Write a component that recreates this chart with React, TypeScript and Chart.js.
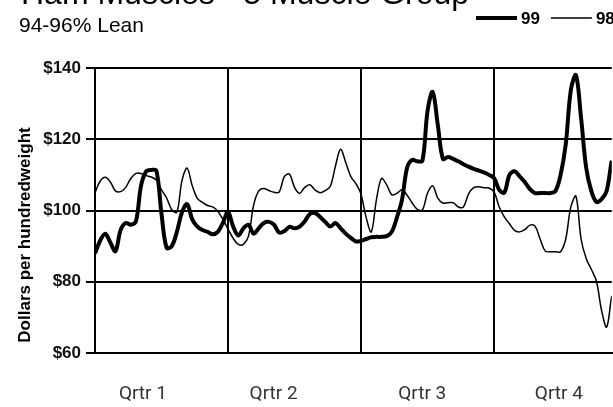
import React, { useEffect, useRef } from "react";
import { Chart, registerables } from "chart.js";

Chart.register(...registerables);

const titleText = "Ham Muscles - 5 Muscle Group";
const subtitleText = "94-96% Lean";
const yAxisTitle = "Dollars per hundredweight";

// half-week periods across the year (0 = start of Qrtr 1)
const periods = [
  0, 1, 2, 3, 4, 5, 6, 7, 8, 9, 10, 11, 12, 13, 14, 15, 16, 17, 18, 19,
  20, 21, 22, 23, 24, 25, 26, 27, 28, 29, 30, 31, 32, 33, 34, 35, 36, 37, 38, 39,
  40, 41, 42, 43, 44, 45, 46, 47, 48, 49, 50, 51, 52, 53, 54, 55, 56, 57, 58, 59,
  60, 61, 62, 63, 64, 65, 66, 67, 68, 69, 70, 71, 72, 73, 74, 75, 76, 77, 78, 79,
  80, 81, 82, 83, 84, 85, 86, 87, 88, 89, 90, 91, 92, 93, 94, 95, 96, 97, 98, 99,
  100, 101, 102, 103,
];

const quarterBounds = [0, 26, 52, 78, 104];
const quarterLabels = ["Qrtr 1", "Qrtr 2", "Qrtr 3", "Qrtr 4"];
const quarterLabelPos = [9.36, 34.9, 63.96, 90.66];
const yTicks = [60, 80, 100, 120, 140];

const series99Name = "99";
const prices99 = [
  88, 91.5, 93.5, 91, 88.6, 94.5, 96.5, 96, 97, 107,
  111, 111.4, 111.2, 99, 89.5, 90, 94, 99.5, 101.8, 97.5,
  95.5, 94.5, 94, 93.3, 94, 96.5, 99.6, 95.5, 93, 95,
  96, 93.5, 95, 96.5, 96.8, 96, 93.8, 94.2, 95.4, 95,
  95.5, 97, 99, 99.3, 98.2, 96.8, 95.5, 96.5, 95, 93.5,
  92.3, 91.3, 91.5, 92, 92.5, 92.6, 92.6, 92.8, 94, 98,
  103, 112, 114.2, 113.8, 114, 128, 133.3, 124, 114.5, 115,
  114.5, 113.8, 113, 112.3, 111.7, 111.2, 110.7, 110, 109.1, 105.8,
  105, 110, 111, 109.6, 108, 106, 104.9, 104.9, 104.9, 104.9,
  105.5, 110, 118.5, 133.8, 138, 126, 112, 105.5, 102.4, 103.2,
  105.5, 114, 120, 121,
];

const series98Name = "98";
const prices98 = [
  105, 108.2, 109.3, 108, 105.5, 105.3, 106.5, 109, 110.4, 110.4,
  109.8, 109.4, 108.5, 105.8, 103.5, 100.2, 99.5, 108.4, 111.9, 107,
  103.4, 102.3, 101.4, 101, 99.8, 97.5, 94.8, 92.2, 90.5, 90.5,
  92.8, 101.5, 105.5, 106.2, 105.6, 105.1, 105.2, 109.5, 110.2, 106.5,
  104.8, 106.5, 107.2, 105.8, 105, 105.6, 106.8, 112.5, 117.2, 113.5,
  109.5, 107.5, 104.5, 98, 94, 103, 109, 107.2, 104.4, 104.8,
  105.8, 104.3, 102.1, 100.3, 100.2, 104.9, 106.9, 103.5, 102.1, 102.2,
  102.2, 101, 101, 104.6, 106.4, 106.7, 106.4, 106.3, 105.2, 101,
  98.2, 96.3, 94.4, 94, 94.6, 95.9, 95.6, 92, 88.6, 88.4,
  88.4, 88.4, 92, 101, 104, 92, 86.5, 83.5, 80.2, 72,
  67.3, 76, 82, 84,
];

const textPlugin = {
  id: "customTexts",
  afterDraw(chart: any) {
    const ctx = chart.ctx as CanvasRenderingContext2D;
    ctx.save();
    ctx.fillStyle = "#000";
    ctx.textAlign = "left";
    ctx.textBaseline = "alphabetic";
    ctx.font = "32px 'Liberation Sans', Arial, sans-serif";
    ctx.fillText(titleText, 21, 4);
    ctx.font = "21px 'Liberation Sans', Arial, sans-serif";
    ctx.fillText(subtitleText, 19, 32);

    // y axis title
    ctx.save();
    ctx.translate(25, 235);
    ctx.rotate(-Math.PI / 2);
    ctx.textAlign = "center";
    ctx.textBaseline = "middle";
    ctx.font = "bold 17px 'Liberation Sans', Arial, sans-serif";
    ctx.fillText(yAxisTitle, 0, 0);
    ctx.restore();

    // legend
    let x = 476;
    const lineY = 18;
    ctx.font = "bold 17px 'Liberation Sans', Arial, sans-serif";
    ctx.textBaseline = "middle";
    chart.data.datasets.forEach((ds: any) => {
      ctx.beginPath();
      ctx.strokeStyle = ds.borderColor;
      ctx.lineWidth = ds.borderWidth;
      ctx.moveTo(x, lineY);
      ctx.lineTo(x + 41, lineY);
      ctx.stroke();
      x += 45;
      ctx.fillText(ds.label, x, 19.5);
      x += ctx.measureText(ds.label).width + 11;
    });
    ctx.restore();
  },
};

export default function App() {
  const ref = useRef<HTMLCanvasElement | null>(null);

  useEffect(() => {
    document.body.style.margin = "0";
    if (!ref.current) return;
    const chart = new Chart(ref.current, {
      type: "line",
      data: {
        labels: periods,
        datasets: [
          {
            label: series99Name,
            data: prices99,
            borderColor: "#000",
            borderWidth: 4,
            pointRadius: 0,
            tension: 0.35,
            fill: false,
          },
          {
            label: series98Name,
            data: prices98,
            borderColor: "#000",
            borderWidth: 1.5,
            pointRadius: 0,
            tension: 0.35,
            fill: false,
          },
        ],
      },
      options: {
        responsive: false,
        animation: false,
        layout: { padding: { top: 68, left: 0, right: 0, bottom: 2 } },
        plugins: {
          legend: { display: false },
          tooltip: { enabled: false },
          title: { display: false },
        },
        scales: {
          x: {
            type: "linear",
            min: 0,
            max: 101,
            position: "bottom",
            afterBuildTicks: (s: any) => {
              s.ticks = quarterBounds.map((v) => ({ value: v }));
            },
            afterFit: (s: any) => {
              s.height = 0;
            },
            grid: { color: "#000", lineWidth: 2, drawTicks: false },
            border: { color: "#000", width: 2 },
            ticks: { display: false },
          },
          xLabels: {
            type: "linear",
            min: 0,
            max: 101,
            position: "bottom",
            afterBuildTicks: (s: any) => {
              s.ticks = quarterLabelPos.map((v) => ({ value: v }));
            },
            afterFit: (s: any) => {
              s.height = 52;
            },
            grid: { display: false, drawTicks: false },
            border: { display: false },
            ticks: {
              padding: 30,
              autoSkip: false,
              maxRotation: 0,
              color: "#333",
              font: { family: "Roboto, 'Liberation Sans', sans-serif", size: 19 },
              callback: (_v: any, i: number) => quarterLabels[i],
            },
          },
          y: {
            min: 60,
            max: 140,
            afterBuildTicks: (s: any) => {
              s.ticks = yTicks.map((v) => ({ value: v }));
            },
            afterFit: (s: any) => {
              s.width = 95;
            },
            grid: { color: "#000", lineWidth: 2, drawTicks: true, tickLength: 9 },
            border: { color: "#000", width: 2 },
            ticks: {
              padding: 5,
              color: "#111",
              font: { family: "'Liberation Sans', Arial, sans-serif", size: 17, weight: "bold" },
              callback: (v: any) => "$" + v,
            },
          },
        },
      } as any,
      plugins: [textPlugin],
    });
    return () => chart.destroy();
  }, []);

  return (
    <div style={{ position: "fixed", left: 0, top: 0, width: 613, height: 407, background: "#fff" }}>
      <canvas ref={ref} width={613} height={407} style={{ width: 613, height: 407, display: "block" }} />
    </div>
  );
}
